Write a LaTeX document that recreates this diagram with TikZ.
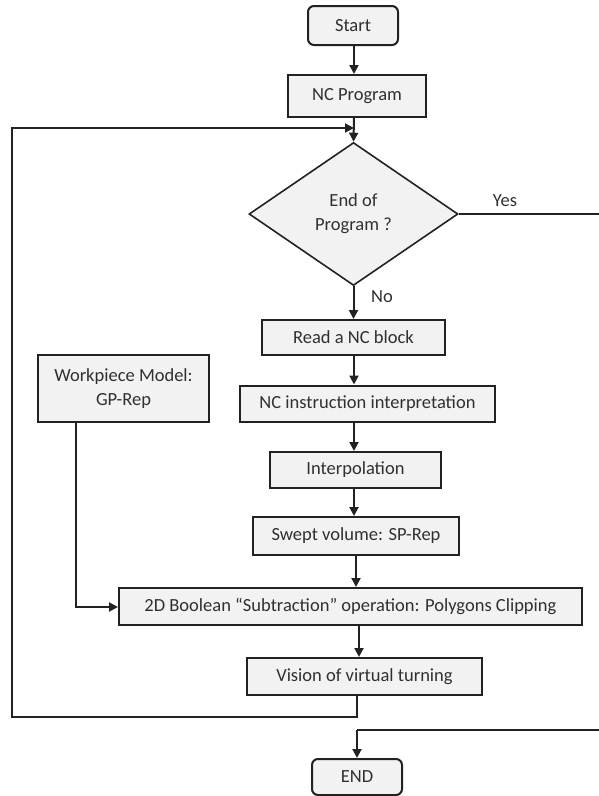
\documentclass[tikz,border=0pt]{standalone}
\usepackage{fontspec}
\setmainfont{Carlito}
\usetikzlibrary{shapes.geometric,arrows.meta,calc}
\definecolor{lc}{HTML}{222222}
\definecolor{bf}{HTML}{F2F2F2}
\definecolor{tc}{HTML}{303030}
\begin{document}
\begin{tikzpicture}[x=1pt,y=-1pt,
  every node/.style={font=\fontsize{18.5}{24}\selectfont, text=tc},
  procbox/.style={draw=lc, line width=2pt, fill=bf, rectangle, inner sep=0pt, align=center},
  termbox/.style={procbox, rounded corners=6pt},
  decbox/.style={draw=lc, line width=1.6pt, fill=bf, diamond, inner sep=0pt, align=center},
  conn/.style={draw=lc, line width=2pt},
  arr/.style={conn, -{Triangle[length=9pt,width=9pt]}},
  lbl/.style={inner sep=0pt}
]
\useasboundingbox (0,0) rectangle (599,796);

\node[termbox, minimum width=90pt, minimum height=39pt] (start) at (353,25.5) {Start};
\node[procbox, minimum width=138pt, minimum height=42pt] (prog) at (357,96) {NC Program};
\node[decbox, minimum width=209pt, minimum height=143pt] (dec) at (353.5,214) {End of\\Program ?};
\node[procbox, minimum width=183pt, minimum height=35pt] (read) at (353.5,337.5) {Read a NC block};
\node[procbox, minimum width=255pt, minimum height=36pt] (instr) at (367.5,403.5) {NC instruction interpretation};
\node[procbox, minimum width=171pt, minimum height=36pt] (interp) at (355.5,470) {Interpolation};
\node[procbox, minimum width=206pt, minimum height=38pt] (swept) at (356,536) {Swept volume: SP-Rep};
\node[procbox, minimum width=171pt, minimum height=67pt] (wp) at (123.5,388.5) {Workpiece Model:\\GP-Rep};
\node[procbox, minimum width=463pt, minimum height=37pt] (bool) at (350.5,606.5) {2D Boolean “Subtraction” operation: Polygons Clipping};
\node[procbox, minimum width=235pt, minimum height=37pt] (vision) at (364.5,676.5) {Vision of virtual turning};
\node[termbox, minimum width=90pt, minimum height=36pt] (stop) at (357,777) {END};

\node[lbl] (yes) at (505,201) {Yes};
\node[lbl] (no) at (382,297) {No};

\coordinate (ax) at (354,0);
\coordinate (ax2) at (356,0);
\coordinate (ax3) at (359,0);
\coordinate (lpTR) at (354,128);
\coordinate (lpTL) at (12,128);
\coordinate (lpBL) at (12,717);
\coordinate (lpBR) at (357,717);
\coordinate (yR) at (600.5,214);
\coordinate (eR) at (600.5,730);
\coordinate (eL) at (357,730);
\coordinate (wpC) at (76,607);

\draw[arr] (start.south -| ax) -- (ax |- prog.north);
\draw[arr] (prog.south -| ax) -- (dec.north);
\draw[arr] (dec.south) -- (dec.south |- read.north);
\draw[arr] (read.south -| ax) -- (ax |- instr.north);
\draw[arr] (instr.south -| ax) -- (ax |- interp.north);
\draw[arr] (interp.south -| ax) -- (ax |- swept.north);
\draw[arr] (swept.south -| ax2) -- (ax2 |- bool.north);
\draw[arr] (bool.south -| ax3) -- (ax3 |- vision.north);
\draw[arr] (wp.south -| wpC) -- (wpC) -- (bool.west |- wpC);
\draw[arr] (vision.south -| lpBR) -- (lpBR) -- (lpBL) -- (lpTL) -- (lpTR);
\draw[conn] (dec.east) -- (yR) -- (eR) -- (eL);
\draw[arr] (eL) -- (eL |- stop.north);
\end{tikzpicture}
\end{document}
